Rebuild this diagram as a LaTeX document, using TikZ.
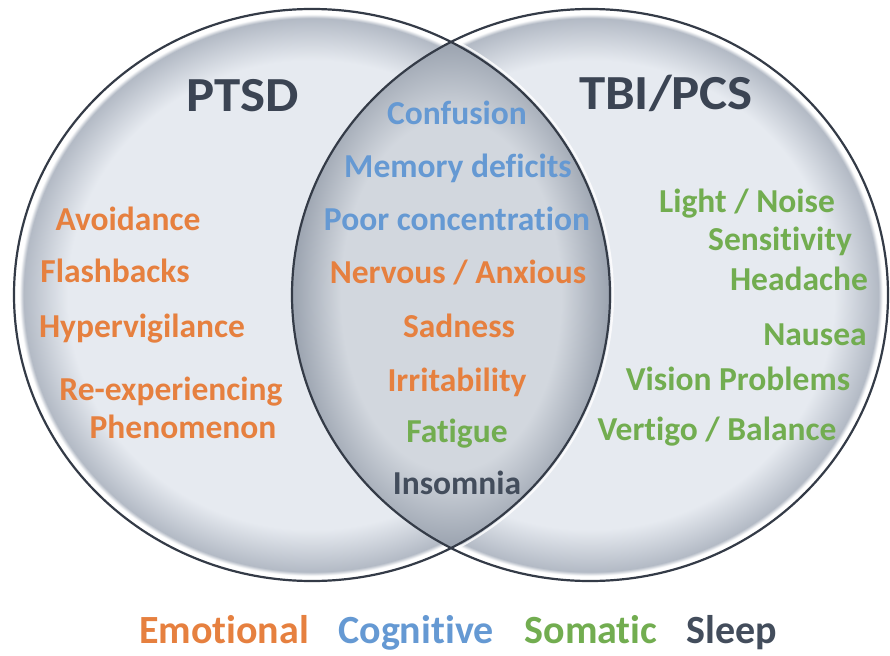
\documentclass[tikz,border=0pt]{standalone}
\usepackage{fontspec}
\setmainfont{Carlito}[Ligatures=NoCommon]
\definecolor{cIn}{HTML}{E6EAF0}
\definecolor{cShadow}{HTML}{B3BAC5}
\definecolor{lIn}{HTML}{D2D7DE}
\definecolor{lShadow}{HTML}{9EA6B2}
\definecolor{edgecol}{HTML}{343B47}
\definecolor{emo}{HTML}{E6803F}
\definecolor{cog}{HTML}{6599D3}
\definecolor{som}{HTML}{72AD50}
\definecolor{slp}{HTML}{434D5C}
\definecolor{ttl}{HTML}{3B4453}
\pgfdeclareradialshading{venn}{\pgfpoint{0bp}{0bp}}{color(0bp)=(cIn); color(20.5bp)=(cIn); color(24.2bp)=(cShadow); color(24.55bp)=(white); color(25bp)=(white); color(50bp)=(white)}
\pgfdeclareradialshading{lens}{\pgfpoint{0bp}{0bp}}{color(0bp)=(lIn); color(17bp)=(lIn); color(24bp)=(lShadow); color(25bp)=(lShadow); color(50bp)=(lShadow)}
\tikzset{
  item/.style={font=\bfseries\fontsize{33.5}{38}\selectfont, anchor=base, inner sep=0pt},
  title/.style={font=\bfseries\fontsize{49}{56}\selectfont, anchor=base, inner sep=0pt, text=ttl, xscale=1.08},
  legend/.style={font=\bfseries\fontsize{40}{46}\selectfont, anchor=base, inner sep=0pt},
  emotional/.style={item, text=emo},
  cognitive/.style={item, text=cog},
  somatic/.style={item, text=som},
  sleep/.style={item, text=slp},
  outline/.style={draw=edgecol, line width=2.2pt}
}
\begin{document}
\begin{tikzpicture}[x=1pt,y=-1pt]
\useasboundingbox[fill=white] (0,0) rectangle (890,655);
% circles
\shade[shading=venn] (312,295) ellipse [x radius=298, y radius=286];
\shade[shading=venn] (590,295) ellipse [x radius=298, y radius=286];
% lens
\begin{scope}
  \clip (312,295) ellipse [x radius=298, y radius=286];
  \clip (590,295) ellipse [x radius=298, y radius=286];
  \shade[shading=lens] (451,295) ellipse [x radius=162, y radius=258];
\end{scope}
% highlights outside lens
\begin{scope}
  \clip (590,295) ellipse [x radius=296, y radius=284];
  \draw[white, line width=2pt, opacity=0.8] (312,295) ellipse [x radius=301, y radius=289];
\end{scope}
% outlines
\draw[outline] (312,295) ellipse [x radius=298, y radius=286];
\draw[outline] (590,295) ellipse [x radius=298, y radius=286];
% titles
\node[title] (ptsd) at (243,112) {PTSD};
\node[title] (tbi) at (666,110) {TBI/PCS};
% PTSD items
\node[emotional] (avoid) at (128,230) {Avoidance};
\node[emotional] (flash) at (115,282) {Flashbacks};
\node[emotional] (hyper) at (142,337) {Hypervigilance};
\node[emotional] (reexp) at (171,400) {Re-experiencing};
\node[emotional] (pheno) at (183,438) {Phenomenon};
% shared items
\node[cognitive] (conf) at (457,125) {Confusion};
\node[cognitive] (mem) at (458,177) {Memory deficits};
\node[cognitive] (conc) at (457,230) {Poor concentration};
\node[emotional] (nerv) at (458,283) {Nervous / Anxious};
\node[emotional] (sad) at (459,337) {Sadness};
\node[emotional] (irr) at (457,391) {Irritability};
\node[somatic] (fat) at (457,442) {Fatigue};
\node[sleep] (ins) at (457,494) {Insomnia};
% TBI items
\node[somatic] (light) at (747,212) {Light / Noise};
\node[somatic] (sens) at (780,250) {Sensitivity};
\node[somatic] (head) at (799,290) {Headache};
\node[somatic] (naus) at (815,345) {Nausea};
\node[somatic] (vis) at (738,390) {Vision Problems};
\node[somatic] (vert) at (717,440) {Vertigo / Balance};
% legend
\node[legend, text=emo] (lemo) at (224,643) {Emotional};
\node[legend, text=cog] (lcog) at (416,643) {Cognitive};
\node[legend, text=som] (lsom) at (591,643) {Somatic};
\node[legend, text=slp] (lslp) at (732,643) {Sleep};
\end{tikzpicture}
\end{document}
